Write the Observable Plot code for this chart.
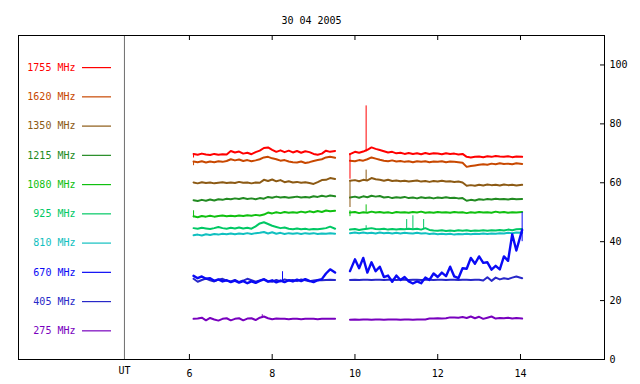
<!DOCTYPE html>
<html><head><meta charset="utf-8">
<script src="https://cdn.jsdelivr.net/npm/d3@7"></script>
<script src="https://cdn.jsdelivr.net/npm/@observablehq/plot@0.6"></script>
<style>body{margin:0;background:#fff}#chart svg{display:block}</style>
</head><body><div id="chart"></div>
<script>
const title = "30 04 2005";
const bands = ["1755","1620","1350","1215","1080","925","810","670","405","275"];
const bandColors = ["#ff0000","#c84800","#8c5a14","#228b22","#10c010","#00c864","#10c0c0","#0a0af5","#2828c8","#7800be"];
const xTicks = [6,8,10,12,14];
const yTicks = [0,20,40,60,80,100];

const hours = [6.1,6.2,6.3,6.4,6.5,6.6,6.7,6.8,6.9,7.0,7.1,7.2,7.3,7.4,7.5,7.6,7.7,7.8,7.9,8.0,8.1,8.2,8.3,8.4,8.5,8.6,8.7,8.8,8.9,9.0,9.1,9.2,9.3,9.4,9.52,
  null,
  9.88,10.0,10.1,10.2,10.3,10.4,10.5,10.6,10.7,10.8,10.9,11.0,11.1,11.2,11.3,11.4,11.5,11.6,11.7,11.8,11.9,12.0,12.1,12.2,12.3,12.4,12.5,12.6,12.7,12.8,12.9,13.0,13.1,13.2,13.3,13.4,13.5,13.6,13.7,13.8,13.9,14.04];

const s1755 = [69.8,69.5,69.9,69.6,69.4,69.8,69.5,69.7,69.6, 70.8,70.3,70.6,69.9,70.2,69.7,70.4,70.9,71.8,72.0, 71.2,70.5,71.0,70.4,70.9,70.3,70.8,70.2,70.7,70.4, 69.8,69.5,69.9,70.9,70.5,70.8,
  null,
  69.7,70.5,70.2,70.6,71.2,72.0,71.5,71.1,70.7,70.3,70.5, 70.0,70.2,69.8,70.1,69.8,70.0,69.7,70.1,69.8,70.0, 69.9,69.7,70.0,69.8,69.9,69.6,69.8,68.8,68.6,68.8, 68.9,68.7,69.0,68.8,69.1,68.9,68.8,69.0,68.7,68.9,68.8];
const s1620 = [67.2,67.0,67.3,66.9,67.2,67.0,67.3,67.1,67.4, 68.0,67.6,67.9,67.4,67.7,67.3,67.6,68.0,68.6,68.8, 68.3,68.0,67.5,67.7,67.2,67.0,66.9,67.2,66.7,67.0, 67.4,67.7,68.0,68.6,68.8,68.5,
  null,
  67.5,67.3,67.7,67.5,68.0,68.6,68.2,67.8,67.5,67.3,67.6, 67.2,67.4,67.1,67.3,67.0,67.3,67.1,67.3,67.0,67.2, 67.1,67.3,67.0,67.2,67.1,67.0,66.8,65.4,65.7,65.9, 66.1,66.3,66.1,66.5,66.3,66.6,66.4,66.5,66.3,66.6,66.4];
const s1350 = [60.1,59.8,60.2,59.9,60.1,59.8,60.0,60.2,59.9, 60.1,59.9,60.3,60.0,60.1,59.8,60.1,60.0,61.0,60.6, 61.1,60.5,60.9,60.2,60.5,60.1,60.3,60.0,60.2,59.9, 59.6,60.2,60.9,61.0,61.6,61.3,
  null,
  60.7,60.9,60.5,61.0,60.8,61.6,61.2,61.0,60.7,61.0,60.6, 60.8,60.5,60.7,60.4,60.6,60.8,60.4,60.6,60.3,60.6, 60.4,60.7,60.4,60.5,60.3,60.4,60.1,59.0,59.2,59.0, 59.3,59.1,59.4,59.2,59.3,59.1,59.4,59.2,59.3,59.1,59.3];
const s1215 = [54.1,53.8,54.2,53.9,54.3,54.0,54.4,54.2,54.6, 54.4,54.7,54.5,54.8,54.5,54.7,54.4,54.8,54.6,55.2, 54.9,55.3,55.0,55.2,54.9,55.1,55.3,55.0,55.2,55.0, 55.4,55.2,55.6,55.3,55.7,55.4,
  null,
  55.0,55.3,54.9,55.4,55.1,55.6,55.3,55.5,55.0,55.2,54.8, 55.1,54.9,55.2,54.8,55.0,54.7,55.1,54.8,55.0,54.7, 55.0,54.8,55.1,54.8,54.9,54.7,54.8,53.9,54.2,54.0, 54.4,54.2,54.5,54.3,54.6,54.4,54.5,54.3,54.6,54.4,54.5];
const s1080 = [48.6,48.3,48.7,48.5,48.8,48.5,48.7,48.9,48.6, 48.8,48.6,48.9,48.7,49.0,48.8,49.1,48.9,49.2,49.9, 49.6,50.0,49.7,50.1,49.8,50.0,49.8,50.2,49.9,50.3, 50.0,50.4,50.1,50.6,50.3,50.5,
  null,
  49.9,50.1,49.7,50.0,49.8,50.2,49.9,50.1,49.8,50.0,49.7, 50.1,49.9,50.0,49.8,50.1,49.9,50.2,49.8,50.0,49.8, 50.1,49.9,50.0,49.8,50.1,49.9,50.0,49.7,50.0,49.8, 50.1,49.9,50.0,49.8,50.2,49.9,50.1,49.8,50.0,49.9,50.1];
const s925 = [44.6,44.4,44.7,44.5,44.3,44.6,45.0,44.6,44.4, 44.7,44.5,44.8,44.5,44.7,44.4,45.2,46.2,46.6,46.0, 45.4,45.0,44.6,44.8,44.4,44.2,44.5,44.2,44.4,44.1, 44.3,44.2,44.4,44.6,45.1,44.4,
  null,
  44.1,44.3,44.0,44.2,44.4,44.6,44.3,44.2,44.4,44.1,44.3, 44.1,44.3,44.2,44.4,44.2,44.4,44.1,44.6,44.0,43.8, 43.7,43.9,43.6,43.8,43.6,43.9,43.7,43.9,43.6,43.8, 43.7,43.9,43.7,43.9,43.8,44.0,43.8,44.1,43.9,44.2,44.3];
const s810 = [42.2,42.4,42.1,42.5,42.3,42.6,42.4,42.7,42.5, 42.8,42.5,42.8,42.6,42.9,42.6,42.9,43.0,43.3,42.8, 43.2,42.7,43.0,42.6,42.9,42.7,42.9,42.6,42.9,42.7, 42.9,42.6,42.8,42.7,42.9,42.7,
  null,
  42.9,43.1,42.9,43.1,42.9,43.0,42.8,43.1,42.9,43.0,42.8, 43.0,42.8,43.0,42.9,42.8,43.0,42.8,42.9,42.6,42.8, 42.5,42.7,42.5,42.7,42.4,42.6,42.5,42.7,42.5,42.7, 42.6,42.8,42.6,42.8,42.7,42.9,42.8,43.0,42.9,43.1,43.0];
const s670 = [28.4,27.6,28.2,27.4,27.6,26.7,27.2,26.5,26.9, 26.3,26.8,26.1,26.6,25.9,26.5,26.0,26.7,27.2,26.4, 26.9,26.2,26.8,26.3,26.9,26.5,27.1,26.6,27.3,26.7, 26.3,26.9,27.3,29.2,30.6,29.5,
  null,
  30.0,34.0,31.0,34.5,29.5,33.0,30.0,31.5,28.0,28.5,26.4, 28.5,27.0,28.0,26.5,25.8,26.5,25.9,27.8,27.0,29.2, 28.0,29.5,28.3,31.5,28.2,27.6,31.0,30.8,34.5,32.5, 35.0,32.8,33.0,30.5,31.8,30.6,35.0,33.5,42.5,37.0,44.0];
const s405 = [27.4,26.4,27.0,27.5,26.9,26.5,27.1,27.4,26.8, 26.5,27.0,26.3,26.8,27.4,26.9,26.4,26.8,27.3,26.6, 26.4,27.0,26.5,27.2,26.8,27.0,26.6,27.2,26.9,26.6, 26.8,27.0,26.9,27.0,27.1,27.0,
  null,
  27.0,27.1,27.0,27.1,27.1,27.0,27.1,27.1,27.0,27.1,27.1, 27.0,27.1,27.1,27.0,27.1,27.1,27.0,27.1,27.1,27.0, 27.1,27.1,27.0,27.1,27.1,27.0,27.1,27.1,27.0,27.1, 27.1,26.8,27.9,26.7,27.8,27.2,27.6,27.3,27.8,28.2,27.6];
const s275 = [13.8,13.9,14.2,13.3,14.1,13.6,13.2,13.8,14.0, 13.3,13.8,14.0,13.3,13.9,14.0,13.4,14.2,14.6,14.0, 13.7,13.9,13.8,13.8,13.7,13.8,13.8,13.7,13.8,13.8, 13.8,13.7,13.8,13.8,13.8,13.8,
  null,
  13.5,13.6,13.5,13.6,13.6,13.5,13.6,13.6,13.5,13.6,13.6, 13.6,13.5,13.6,13.6,13.5,13.6,13.6,13.6,13.9,13.9, 14.0,13.9,14.0,14.3,14.3,14.2,14.4,14.1,14.6,14.0, 14.5,13.8,14.2,14.6,13.9,14.1,14.0,14.2,13.9,14.1,13.9];

// short vertical bursts / segment-start jumps
const spikeBand = ["1755","1350","1080","925","925","925","925","670","275","670","1755","1350","1080","1755","1620","1080"];
const spikeHour = [10.27,10.27,10.27,10.27,11.25,11.4,11.66,8.25,7.76,14.04,9.88,9.88,9.88,6.1,6.1,6.1];
const spikeLow  = [70.5,60.8,50.0,44.3,44.2,44.2,44.2,26.5,13.9,40.0,61.2,51.6,48.5,68.4,65.8,48.1];
const spikeHigh = [86.1,64.3,52.5,45.4,47.5,48.8,47.5,29.8,15.2,49.9,69.9,60.7,50.5,69.9,67.2,50.5];

const series = [s1755,s1620,s1350,s1215,s1080,s925,s810,s670,s405,s275];
series.forEach((s,i)=>{ if (s.length !== hours.length) throw new Error("length mismatch " + bands[i] + " " + s.length); });

// layout
const W = 640, H = 384, mL = 18, mR = 36, mT = 35, mB = 25;
const frameW = W - mL - mR, frameH = H - mT - mB;
const utHour = 4.43;
const legendTop = 99.1, legendStep = 9.93;
const colorOf = Object.fromEntries(bands.map((b,i)=>[b, bandColors[i]]));

const legend = bands.map((b,i)=>({band: b, level: legendTop - i * legendStep, label: b + " MHz", color: bandColors[i]}));
const spikes = spikeBand.map((b,i)=>({band: b, hour: spikeHour[i], lo: spikeLow[i], hi: spikeHigh[i], color: colorOf[b]}));

const drawOrder = ["275","405","810","925","1080","1215","1350","1620","1755","670"];
const lineMarks = drawOrder.map(b => {
  const s = series[bands.indexOf(b)];
  const rows = hours.map((h,j)=>({hour: h, value: s[j]}));
  return Plot.line(rows, {x: "hour", y: "value", stroke: colorOf[b], strokeWidth: b === "670" ? 2.4 : 2});
});

const chart = Plot.plot({
  width: W, height: H,
  marginLeft: mL, marginRight: mR, marginTop: mT, marginBottom: mB,
  style: {fontFamily: "'DejaVu Sans Mono', monospace", fontSize: "10px", background: "#fff", color: "#000"},
  x: {domain: [1.87, 16.03], axis: null},
  y: {domain: [0, 110], axis: null},
  marks: [
    Plot.ruleX([utHour], {x: d=>d, stroke: "#6e6e6e", strokeWidth: 1}),
    Plot.ruleX(xTicks, {x: d=>d, insetTop: frameH - 5, stroke: "#000"}),
    Plot.ruleX(xTicks, {x: d=>d, insetBottom: frameH - 5, stroke: "#000"}),
    Plot.ruleY(yTicks, {y: d=>d, insetLeft: frameW - 4, stroke: "#000"}),
    Plot.text(xTicks, {x: d=>d, frameAnchor: "bottom", dy: 17, text: d=>String(d), fill: "#000"}),
    Plot.text(yTicks, {y: d=>d, frameAnchor: "right", dx: 5, textAnchor: "start", text: d=>String(d), fill: "#000"}),
    Plot.text(["UT"], {x: utHour, frameAnchor: "bottom", dy: 14, text: d=>d, fill: "#000"}),
    Plot.text([title], {frameAnchor: "top", dy: -19, text: d=>d, fill: "#000"}),
    Plot.text(legend, {y: "level", frameAnchor: "left", dx: 57, textAnchor: "end", text: "label", fill: "color"}),
    Plot.ruleY(legend, {y: "level", insetLeft: 64, insetRight: frameW - 93, stroke: "color", strokeWidth: 1.2}),
    ...lineMarks,
    Plot.ruleX(spikes, {x: "hour", y1: "lo", y2: "hi", stroke: "color", strokeWidth: 1}),
    Plot.frame({stroke: "#000"})
  ]
});
document.getElementById("chart").append(chart);
</script>
</body></html>
